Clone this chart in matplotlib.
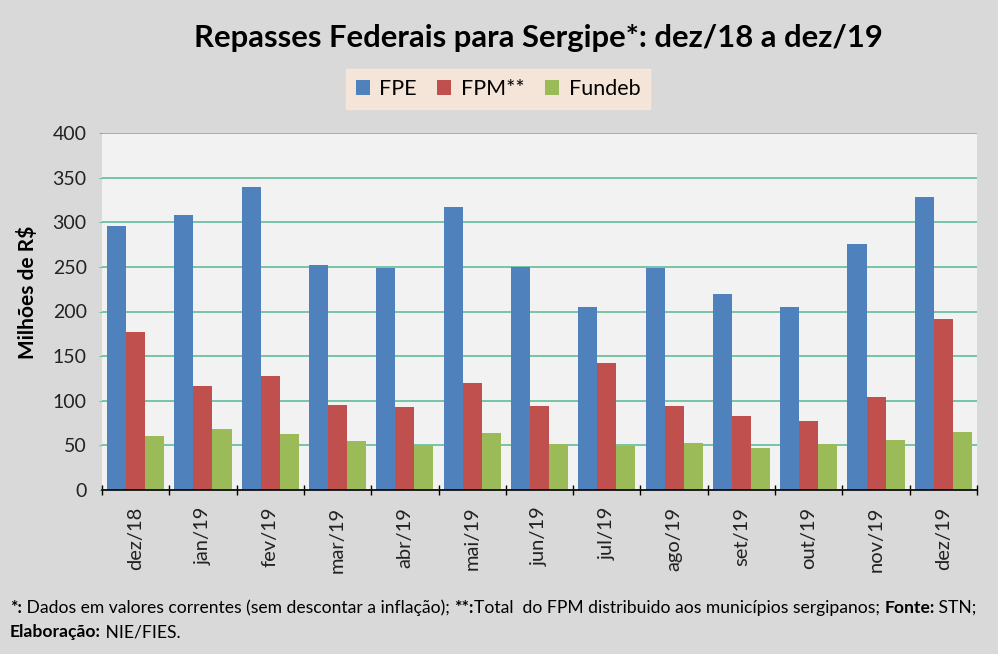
import matplotlib
matplotlib.use("Agg")
import matplotlib.pyplot as plt
import numpy as np

months = ["dez/18", "jan/19", "fev/19", "mar/19", "abr/19", "mai/19", "jun/19",
          "jul/19", "ago/19", "set/19", "out/19", "nov/19", "dez/19"]
fpe = [296, 308, 339, 252, 249, 317, 250, 205, 249, 220, 205, 276, 328]
fpm = [177, 116, 128, 95, 93, 120, 94, 142, 94, 83, 77, 104, 192]
fundeb = [60, 68, 63, 55, 50, 64, 51, 49, 53, 47, 51, 56, 65]
series_names = ["FPE", "FPM**", "Fundeb"]
colors = ["#4F81BD", "#C0504D", "#9BBB59"]
yticks = [0, 50, 100, 150, 200, 250, 300, 350, 400]

plt.rcParams['font.family'] = ['Lato', 'DejaVu Sans']

fig = plt.figure(figsize=(9.98, 6.54), dpi=100, facecolor="#D9D9D9")
ax = fig.add_axes([102/998, 1-490/654, (977-102)/998, (490-133)/654])
ax.set_facecolor("#F2F2F2")

x = np.arange(len(months))
w = 0.283
for i, (vals, name, c) in enumerate(zip([fpe, fpm, fundeb], series_names, colors)):
    ax.bar(x + (i - 1) * w, vals, width=w, color=c, label=name, zorder=3)

ax.set_xlim(-0.5, len(months) - 0.5)
ax.set_ylim(0, 400)
ax.set_yticks(yticks)
ax.set_yticklabels([str(v) for v in yticks], fontsize=14, color="#222222")
ax.yaxis.grid(True, color="#6CC29E", linewidth=1.3, zorder=0)
ax.tick_params(axis='y', length=2, color="#6CC29E", pad=9)
for s in ["left", "right", "top"]:
    ax.spines[s].set_visible(False)
ax.spines["bottom"].set_color("black")
ax.spines["bottom"].set_linewidth(1.2)
ax.spines["bottom"].set_zorder(4)

ax.set_xticks(np.arange(-0.5, len(months), 1.0))
ax.set_xticklabels([])
ax.tick_params(axis='x', which='major', length=7, direction='inout', color='black', width=1)
ax.set_xticks(x, minor=True)
ax.set_xticklabels(months, minor=True, rotation=90, fontsize=14.5, color="#222222")
ax.tick_params(axis='x', which='minor', length=0, pad=12)

ax.set_ylabel("Milhões de R$", fontsize=15, fontweight='bold')
ax.yaxis.set_label_coords((38 - 102) / 875, 0.555)

fig.text(538/998, 1-38/654, "Repasses Federais para Sergipe*: dez/18 a dez/19",
         ha='center', va='center', fontsize=22.3, fontweight='bold', color="black")

leg = fig.legend(loc='center', bbox_to_anchor=(498/998, 1-89/654), ncol=3,
                 fontsize=15.5, frameon=True, fancybox=False, handlelength=0.65,
                 handleheight=0.65, columnspacing=0.95, handletextpad=0.45,
                 borderpad=0.45, borderaxespad=0)
leg.get_frame().set_facecolor("#FDE9D9")
leg.get_frame().set_edgecolor("#FDE9D9")

fam = ['Liberation Sans Narrow', 'Lato', 'DejaVu Sans']
t1 = [("*:", True), (" Dados em valores correntes (sem descontar a inflação); ", False),
      ("**:", True), ("Total  do FPM distribuido aos municípios sergipanos; ", False),
      ("Fonte:", True), (" STN;", False)]
xpos = 10
renderer = fig.canvas.get_renderer()
for txt, bold in t1:
    t = fig.text(xpos/998, 1-608/654, txt, fontsize=12.6, fontweight='bold' if bold else 'normal',
                 family=fam, va='center', ha='left')
    bb = t.get_window_extent(renderer=renderer)
    xpos += bb.width
xpos = 10
for txt, bold in [("Elaboração:", True), (" NIE/FIES.", False)]:
    t = fig.text(xpos/998, 1-632/654, txt, fontsize=12.6, fontweight='bold' if bold else 'normal',
                 family=fam, va='center', ha='left')
    bb = t.get_window_extent(renderer=renderer)
    xpos += bb.width

fig.savefig("out.png", dpi=100, facecolor=fig.get_facecolor())
